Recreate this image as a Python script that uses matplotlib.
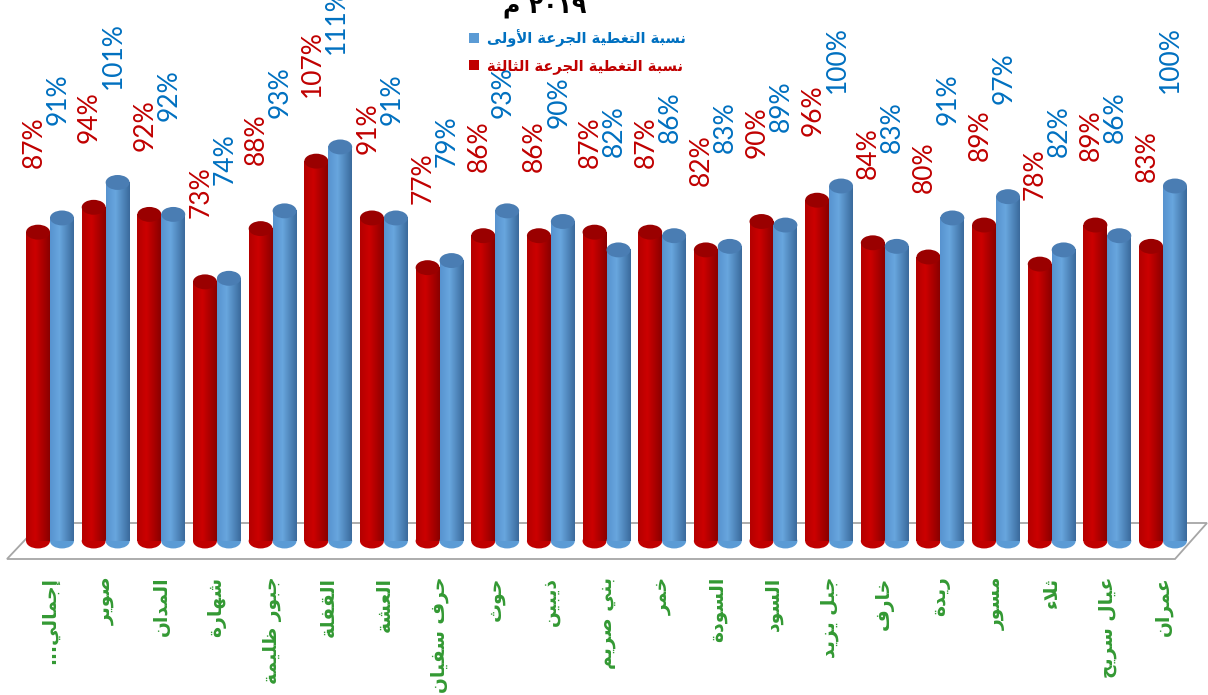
import re
import numpy as np
import matplotlib
matplotlib.use("Agg")
import matplotlib.pyplot as plt
from matplotlib.patches import Ellipse, Polygon, Patch

# data
districts = ['إجمالي...', 'صوير', 'المدان', 'شهارة', 'جبور ظليمة', 'القفلة', 'العشة',
             'حرف سفيان', 'حوث', 'ذيبين', 'بني صريم', 'خمر', 'السودة', 'السود',
             'جبل يزيد', 'خارف', 'ريدة', 'مسور', 'ثلاء', 'عيال سريح', 'عمران']
third_dose = [87, 94, 92, 73, 88, 107, 91, 77, 86, 86, 87, 87, 82, 90, 96, 84, 80, 89, 78, 89, 83]
first_dose = [91, 101, 92, 74, 93, 111, 91, 79, 93, 90, 82, 86, 83, 89, 100, 83, 91, 97, 82, 86, 100]
label_first = 'نسبة التغطية الجرعة الأولى'
label_third = 'نسبة التغطية الجرعة الثالثة'
title = '٢٠١٩ م'

# matplotlib has no arabic shaping, so join letters by hand (presentation forms)
FORMS = {
    '\u0621': (0xFE80, 1), '\u0622': (0xFE81, 2), '\u0623': (0xFE83, 2), '\u0624': (0xFE85, 2),
    '\u0625': (0xFE87, 2), '\u0626': (0xFE89, 4), '\u0627': (0xFE8D, 2), '\u0628': (0xFE8F, 4),
    '\u0629': (0xFE93, 2), '\u062A': (0xFE95, 4), '\u062B': (0xFE99, 4), '\u062C': (0xFE9D, 4),
    '\u062D': (0xFEA1, 4), '\u062E': (0xFEA5, 4), '\u062F': (0xFEA9, 2), '\u0630': (0xFEAB, 2),
    '\u0631': (0xFEAD, 2), '\u0632': (0xFEAF, 2), '\u0633': (0xFEB1, 4), '\u0634': (0xFEB5, 4),
    '\u0635': (0xFEB9, 4), '\u0636': (0xFEBD, 4), '\u0637': (0xFEC1, 4), '\u0638': (0xFEC5, 4),
    '\u0639': (0xFEC9, 4), '\u063A': (0xFECD, 4), '\u0641': (0xFED1, 4), '\u0642': (0xFED5, 4),
    '\u0643': (0xFED9, 4), '\u0644': (0xFEDD, 4), '\u0645': (0xFEE1, 4), '\u0646': (0xFEE5, 4),
    '\u0647': (0xFEE9, 4), '\u0648': (0xFEED, 2), '\u0649': (0xFEEF, 2), '\u064A': (0xFEF1, 4),
}
LAM_ALEF = {'\u0622': 0xFEF5, '\u0623': 0xFEF7, '\u0625': 0xFEF9, '\u0627': 0xFEFB}


def ar(text):
    tokens = []
    i = 0
    while i < len(text):
        ch = text[i]
        if ch == '\u0644' and i + 1 < len(text) and text[i + 1] in LAM_ALEF:
            tokens.append((LAM_ALEF[text[i + 1]], 2))
            i += 2
            continue
        tokens.append(FORMS.get(ch, (ch, 0)))
        i += 1
    out = []
    for k, (base, n) in enumerate(tokens):
        if n == 0:
            out.append(base)
            continue
        prev_join = k > 0 and tokens[k - 1][1] == 4
        next_join = n == 4 and k + 1 < len(tokens) and tokens[k + 1][1] >= 2
        if n == 1:
            form = 0
        elif prev_join and next_join:
            form = 3
        elif prev_join:
            form = 1
        elif next_join:
            form = 2
        else:
            form = 0
        out.append(chr(base + form))
    vis = ''.join(out)[::-1]
    # keep digit runs left to right
    return re.sub(r'[0-9\u0660-\u0669]+', lambda m: m.group(0)[::-1], vis)


RED = '#C00000'
BLUE = '#5B9BD5'
GREEN = '#339933'

fig = plt.figure(figsize=(12.08, 6.95), dpi=100)
ax = fig.add_axes([0, 135 / 695, 1, 560 / 695])

x = np.arange(len(districts))
w = 0.43
px_per_unit = 3.55
cap_h = 4.2


def grad(c_left, c_mid, c_right):
    c0 = np.array(matplotlib.colors.to_rgb(c_left))
    c1 = np.array(matplotlib.colors.to_rgb(c_mid))
    c2 = np.array(matplotlib.colors.to_rgb(c_right))
    t = np.linspace(0, 1, 64)[:, None]
    g = np.where(t < 0.4, c0 + (c1 - c0) * (t / 0.4), c1 + (c2 - c1) * ((t - 0.4) / 0.6))
    return g[None, :, :]


red_grad = grad('#B40000', '#CC0000', '#8A0000')
blue_grad = grad('#5793CF', '#68A6DE', '#3A6A9C')


def cylinders(xs, vals, img, body, top, z):
    for xc, v in zip(xs, vals):
        ax.add_patch(Ellipse((xc, 0), w, cap_h, facecolor=body, edgecolor='none', zorder=z))
        ax.imshow(img, extent=(xc - w / 2, xc + w / 2, 0, v), aspect='auto',
                  interpolation='bilinear', zorder=z + 0.1)
        ax.add_patch(Ellipse((xc, v), w, cap_h, facecolor=top, edgecolor='none', zorder=z + 0.2))


cylinders(x - w / 2, third_dose, red_grad, '#C00000', '#9A0000', 3)
cylinders(x + w / 2, first_dose, blue_grad, '#5B9BD5', '#4A7DB3', 4)

# floor
floor = Polygon([(7 / 1208, 1 / 560), (1175 / 1208, 1 / 560), (1207 / 1208, 37 / 560),
                 (41 / 1208, 37 / 560)], closed=True, transform=ax.transAxes,
                facecolor='white', edgecolor='#A6A6A6', lw=1.3, zorder=1)
ax.add_patch(floor)

for xc, v in zip(x - w / 2, third_dose):
    ax.annotate(f'{v}%', (xc, v), xytext=(-3, 46), textcoords='offset points',
                rotation=90, ha='center', va='bottom', color=RED,
                fontsize=19, family='Lato', zorder=6)
for xc, v in zip(x + w / 2, first_dose):
    ax.annotate(f'{v}%', (xc, v), xytext=(-3, 67), textcoords='offset points',
                rotation=90, ha='center', va='bottom', color='#0070C0',
                fontsize=19, family='Lato', zorder=6)

ax.set_xlim(-50 / 55.65, (1208 - 50) / 55.65)
ax.set_ylim(-19 / px_per_unit, 541 / px_per_unit)
ax.set_xticks(x)
ax.set_xticklabels([ar(d) for d in districts], rotation=90, ha='center', va='top',
                   color=GREEN, fontsize=13.5, fontweight='bold', family='DejaVu Sans')
ax.tick_params(axis='x', length=0, pad=12)
ax.set_yticks([])
for s in ax.spines.values():
    s.set_visible(False)
ax.patch.set_alpha(0)

handles = [Patch(facecolor=BLUE, label=ar(label_first)),
           Patch(facecolor=RED, label=ar(label_third))]
leg = fig.legend(handles=handles, loc='upper left', bbox_to_anchor=(456 / 1208, 1 - 16 / 695),
                 frameon=False, handlelength=0.7, handleheight=0.7, handletextpad=0.5,
                 labelspacing=0.75, prop={'family': 'DejaVu Sans', 'weight': 'bold', 'size': 10.5})
leg.get_texts()[0].set_color('#0070C0')
leg.get_texts()[1].set_color(RED)

fig.text(545 / 1208, 1 - 6 / 695, ar(title), ha='center', va='center',
         fontsize=17, fontweight='bold', family='DejaVu Sans')

fig.savefig('out.png', dpi=100)
